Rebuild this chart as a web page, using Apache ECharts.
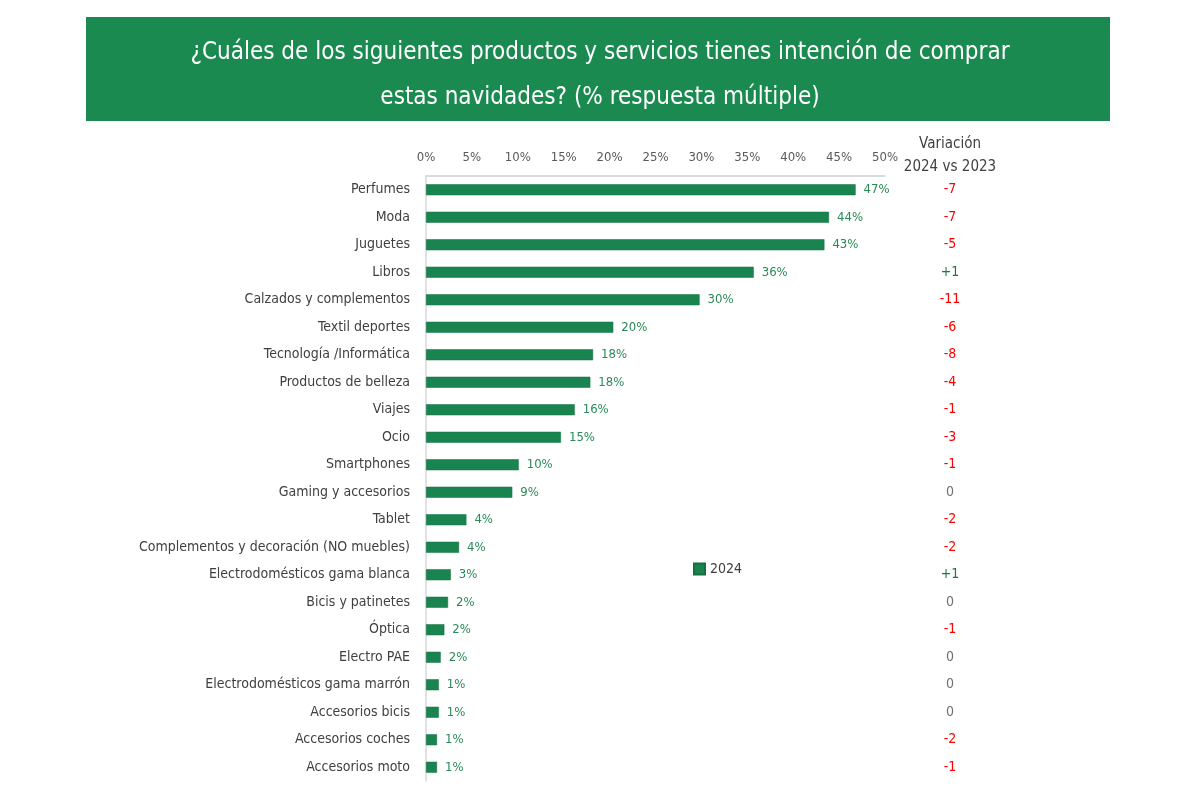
<!DOCTYPE html>
<html>
<head>
<meta charset="utf-8">
<script src="https://cdn.jsdelivr.net/npm/echarts@6/dist/echarts.min.js"></script>
<style>html,body{margin:0;padding:0;background:#fff}#c{width:1200px;height:800px}</style>
</head>
<body>
<div id="c"></div>
<script>
const categories = ["Perfumes","Moda","Juguetes","Libros","Calzados y complementos","Textil deportes","Tecnología /Informática","Productos de belleza","Viajes","Ocio","Smartphones","Gaming y accesorios","Tablet","Complementos y decoración (NO muebles)","Electrodomésticos gama blanca","Bicis y patinetes","Óptica","Electro PAE","Electrodomésticos gama marrón","Accesorios bicis","Accesorios coches","Accesorios moto"];
const values2024 = [46.8,43.9,43.4,35.7,29.8,20.4,18.2,17.9,16.2,14.7,10.1,9.4,4.4,3.6,2.7,2.4,2.0,1.6,1.4,1.4,1.2,1.2];
const variation = ["-7","-7","-5","+1","-11","-6","-8","-4","-1","-3","-1","0","-2","-2","+1","0","-1","0","0","0","-2","-1"];
const xTicks = [0,5,10,15,20,25,30,35,40,45,50];

const FONT = '"Liberation Sans Narrow","DejaVu Sans Condensed","Roboto Condensed",sans-serif';
const GREEN = '#1a8450';
const chart = echarts.init(document.getElementById('c'));
function varStyle(v){ return v.startsWith('+') ? 'pos' : (v === '0' ? 'zero' : 'neg'); }
chart.setOption({
  animation: false,
  textStyle: { fontFamily: FONT },
  graphic: [
    { type: 'rect', shape: { x: 86, y: 17, width: 1024, height: 104 }, style: { fill: '#1b8a50' }, z: 0 },
    { type: 'text', x: 950, y: 133, style: { text: 'Variación\n2024 vs 2023', align: 'center', font: '15px ' + FONT, fill: '#404040', lineHeight: 23 } }
  ],
  title: {
    text: '¿Cuáles de los siguientes productos y servicios tienes intención de comprar\nestas navidades? (% respuesta múltiple)',
    left: 'center', top: 25, z: 5,
    textStyle: { color: '#ffffff', fontSize: 24, fontWeight: 'normal', fontFamily: FONT, lineHeight: 45, align: 'center' }
  },
  legend: {
    data: ['2024'], left: 688, top: 557, itemWidth: 11, itemHeight: 11, itemGap: 6, icon: 'rect',
    textStyle: { color: '#404040', fontSize: 14, fontFamily: FONT }
  },
  grid: { left: 426, right: 315, top: 176, bottom: 19, containLabel: false },
  xAxis: {
    type: 'value', position: 'top', min: 0, max: 50, interval: 5,
    axisLine: { show: true, lineStyle: { color: '#d0d0d0', width: 1.5 } },
    axisTick: { show: false }, splitLine: { show: false },
    axisLabel: { color: '#595959', fontSize: 13, margin: 12, formatter: v => v + '%' }
  },
  yAxis: [{
    type: 'category', inverse: true, data: categories,
    axisLine: { show: true, lineStyle: { color: '#d9d9d9', width: 1.5 } },
    axisTick: { show: false },
    axisLabel: { color: '#404040', fontSize: 14, margin: 16 }
  }, {
    type: 'category', inverse: true, position: 'right', data: variation,
    axisLine: { show: false }, axisTick: { show: false },
    axisLabel: {
      margin: 65, align: 'center',
      formatter: v => '{' + varStyle(v) + '|' + v + '}',
      rich: {
        neg: { color: '#ff0000', fontSize: 14, fontFamily: FONT },
        pos: { color: '#1a7a40', fontSize: 14, fontFamily: FONT },
        zero: { color: '#707070', fontSize: 14, fontFamily: FONT }
      }
    }
  }],
  series: [{
    name: '2024', type: 'bar', data: values2024, barWidth: 11,
    itemStyle: { color: GREEN, borderColor: '#13703f', borderWidth: 0.5 },
    label: { show: true, position: 'right', distance: 8, color: '#2a8a55', fontSize: 13, formatter: p => Math.round(p.value) + '%' }
  }]
});
</script>
</body>
</html>
